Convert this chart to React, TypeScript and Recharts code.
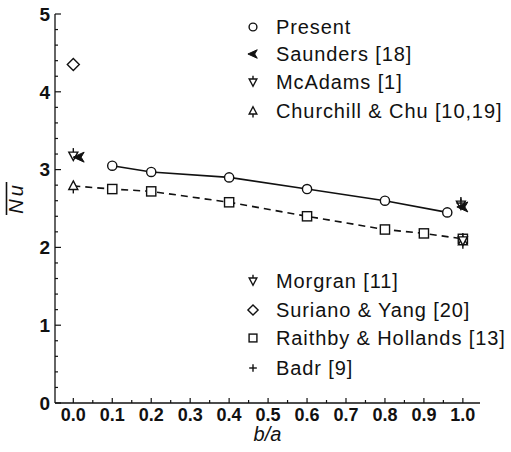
import { ScatterChart, Scatter, XAxis, YAxis } from "recharts";

// values (x = b/a, y = mean Nu)
const PRESENT_X = [0.1, 0.2, 0.4, 0.6, 0.8, 0.96];
const PRESENT_NU = [3.05, 2.97, 2.9, 2.75, 2.6, 2.45];

const RAITHBY_X = [0.1, 0.2, 0.4, 0.6, 0.8, 0.9, 1.0];
const RAITHBY_NU = [2.75, 2.72, 2.58, 2.4, 2.23, 2.18, 2.11];

const CHURCHILL_X = [0, 1.0];
const CHURCHILL_NU = [2.79, 2.08];

const SAUNDERS_X = [0.015, 1.0];
const SAUNDERS_NU = [3.16, 2.52];

const MCADAMS_X = [0, 0.995];
const MCADAMS_NU = [3.18, 2.55];

const SURIANO_X = [0];
const SURIANO_NU = [4.35];

const MORGRAN_X = [1.0];
const MORGRAN_NU = [2.09];

const BADR_X = [0.995];
const BADR_NU = [2.57];

const X_TICKS = [
  0, 0.05, 0.1, 0.15, 0.2, 0.25, 0.3, 0.35, 0.4, 0.45, 0.5,
  0.55, 0.6, 0.65, 0.7, 0.75, 0.8, 0.85, 0.9, 0.95, 1.0,
];
const Y_TICKS = [
  0, 0.2, 0.4, 0.6, 0.8, 1, 1.2, 1.4, 1.6, 1.8, 2, 2.2, 2.4, 2.6, 2.8,
  3, 3.2, 3.4, 3.6, 3.8, 4, 4.2, 4.4, 4.6, 4.8, 5,
];

const LEGEND_TOP = [
  { kind: "circle", label: "Present" },
  { kind: "arrow", label: "Saunders [18]" },
  { kind: "down", label: "McAdams [1]" },
  { kind: "up", label: "Churchill & Chu [10,19]" },
];
const LEGEND_BOTTOM = [
  { kind: "down", label: "Morgran [11]" },
  { kind: "diamond", label: "Suriano & Yang [20]" },
  { kind: "square", label: "Raithby & Hollands [13]" },
  { kind: "plus", label: "Badr [9]" },
];

const FONT = "'Liberation Sans', Arial, Helvetica, sans-serif";
const INK = "#111";
const W = 511;
const H = 452;
const TICK_GAP = 5;

const pts = (xs: number[], ys: number[]) => xs.map((x, i) => ({ x, y: ys[i] }));

function Mark({ kind, cx, cy, s = 1 }: { kind: string; cx: number; cy: number; s?: number }) {
  const st = { stroke: INK, strokeWidth: 1.4, fill: "#fff" };
  switch (kind) {
    case "circle":
      return <circle cx={cx} cy={cy} r={4.6 * s} {...st} />;
    case "square":
      return <rect x={cx - 4.6 * s} y={cy - 4.6 * s} width={9.2 * s} height={9.2 * s} {...st} />;
    case "diamond":
      return (
        <path
          d={`M${cx} ${cy - 6 * s}L${cx + 6 * s} ${cy}L${cx} ${cy + 6 * s}L${cx - 6 * s} ${cy}Z`}
          {...st}
        />
      );
    case "up":
      return (
        <g>
          <path d={`M${cx} ${cy - 5 * s}L${cx + 4.5 * s} ${cy + 3.5 * s}L${cx - 4.5 * s} ${cy + 3.5 * s}Z`} {...st} />
          <line x1={cx} x2={cx} y1={cy + 3.5 * s} y2={cy + 7.5 * s} stroke={INK} strokeWidth={1.4} />
        </g>
      );
    case "down":
      return (
        <g>
          <path d={`M${cx - 4.5 * s} ${cy - 3.5 * s}L${cx + 4.5 * s} ${cy - 3.5 * s}L${cx} ${cy + 5 * s}Z`} {...st} />
          <line x1={cx} x2={cx} y1={cy - 3.5 * s} y2={cy - 7.5 * s} stroke={INK} strokeWidth={1.4} />
        </g>
      );
    case "arrow":
      return (
        <path
          d={`M${cx - 6 * s} ${cy}L${cx + 5 * s} ${cy - 5 * s}L${cx + 2 * s} ${cy}L${cx + 5 * s} ${cy + 5 * s}Z`}
          fill={INK}
          stroke={INK}
          strokeWidth={1}
        />
      );
    case "plus":
      return (
        <g stroke={INK} strokeWidth={1.4}>
          <line x1={cx - 4.5 * s} x2={cx + 4.5 * s} y1={cy} y2={cy} />
          <line x1={cx} x2={cx} y1={cy - 4.5 * s} y2={cy + 4.5 * s} />
        </g>
      );
    default:
      return <g />;
  }
}

const shapeOf = (kind: string) => (p: any) => <Mark kind={kind} cx={p.cx} cy={p.cy} />;

function YTick(props: any) {
  const { x, y, payload } = props;
  const v = payload.value as number;
  const major = Number.isInteger(v);
  const ax = x + TICK_GAP;
  return (
    <g>
      <line x1={ax} x2={ax + (major ? 6 : 3)} y1={y} y2={y} stroke={INK} strokeWidth={1.2} />
      {major && (
        <text x={x} y={y} dy="0.36em" textAnchor="end" fontFamily={FONT} fontSize={19} fontWeight="bold" fill={INK}>
          {v}
        </text>
      )}
    </g>
  );
}

function XTick(props: any) {
  const { x, y, payload } = props;
  const v = payload.value as number;
  const major = Math.abs(v * 10 - Math.round(v * 10)) < 1e-6;
  const ay = y - TICK_GAP;
  return (
    <g>
      <line x1={x} x2={x} y1={ay} y2={ay - (major ? 5 : 3)} stroke={INK} strokeWidth={1.2} />
      {major && (
        <text x={x} y={y} dy="0.71em" textAnchor="middle" fontFamily={FONT} fontSize={18} fontWeight="bold" fill={INK}>
          {v.toFixed(1)}
        </text>
      )}
    </g>
  );
}

function NuLabel() {
  return (
    <g>
      <text
        transform="translate(23 198) rotate(-90)"
        textAnchor="middle"
        fontFamily={FONT}
        fontSize={20}
        fontStyle="italic"
        letterSpacing={3}
        fill={INK}
      >
        Nu
      </text>
      <line x1={6.5} x2={6.5} y1={182} y2={215} stroke={INK} strokeWidth={1.6} />
    </g>
  );
}

function LegendRows({ rows, top, step }: { rows: typeof LEGEND_TOP; top: number[]; step?: number }) {
  return (
    <>
      {rows.map((r, i) => (
        <g key={r.label}>
          <Mark kind={r.kind} cx={253} cy={top[i]} s={0.85} />
          <text
            x={276}
            y={top[i]}
            dy="0.35em"
            fontFamily={FONT}
            fontSize={20}
            letterSpacing={0.9}
            fill={INK}
          >
            {r.label}
          </text>
        </g>
      ))}
    </>
  );
}

export default function App() {
  return (
    <div style={{ position: "absolute", left: 0, top: 0, width: W, height: H, background: "#fff" }}>
      <ScatterChart width={W} height={H} margin={{ top: 14, right: 31, bottom: 0, left: 0 }}>
        <XAxis
          type="number"
          dataKey="x"
          domain={[-0.047, 1.044]}
          allowDataOverflow
          ticks={X_TICKS}
          interval={0}
          height={49}
          tickSize={0}
          tickMargin={TICK_GAP}
          tickLine={false}
          axisLine={{ stroke: INK, strokeWidth: 1.3 }}
          tick={XTick}
          label={{
            value: "b/a",
            position: "insideBottom",
            offset: 11,
            fontFamily: FONT,
            fontSize: 20,
            fontStyle: "italic",
            fill: INK,
          }}
        />
        <YAxis
          type="number"
          dataKey="y"
          domain={[0, 5]}
          allowDataOverflow
          ticks={Y_TICKS}
          interval={0}
          width={55}
          tickSize={0}
          tickMargin={TICK_GAP}
          tickLine={false}
          axisLine={{ stroke: INK, strokeWidth: 1.3 }}
          tick={YTick}
          label={{ content: () => <NuLabel /> }}
        />
        <Scatter
          name="Raithby curve"
          data={pts([CHURCHILL_X[0], ...RAITHBY_X], [CHURCHILL_NU[0], ...RAITHBY_NU])}
          line={{ stroke: INK, strokeWidth: 1.6, strokeDasharray: "7 5" }}
          shape={() => <g />}
          isAnimationActive={false}
        />
        <Scatter
          name="Present"
          data={pts(PRESENT_X, PRESENT_NU)}
          line={{ stroke: INK, strokeWidth: 1.6 }}
          shape={shapeOf("circle")}
          isAnimationActive={false}
        />
        <Scatter name="Raithby & Hollands" data={pts(RAITHBY_X, RAITHBY_NU)} shape={shapeOf("square")} isAnimationActive={false} />
        <Scatter name="Suriano & Yang" data={pts(SURIANO_X, SURIANO_NU)} shape={shapeOf("diamond")} isAnimationActive={false} />
        <Scatter name="Churchill & Chu" data={pts(CHURCHILL_X, CHURCHILL_NU)} shape={shapeOf("up")} isAnimationActive={false} />
        <Scatter name="Morgran" data={pts(MORGRAN_X, MORGRAN_NU)} shape={shapeOf("down")} isAnimationActive={false} />
        <Scatter name="McAdams" data={pts(MCADAMS_X, MCADAMS_NU)} shape={shapeOf("down")} isAnimationActive={false} />
        <Scatter name="Badr" data={pts(BADR_X, BADR_NU)} shape={shapeOf("plus")} isAnimationActive={false} />
        <Scatter name="Saunders" data={pts(SAUNDERS_X, SAUNDERS_NU)} shape={shapeOf("arrow")} isAnimationActive={false} />
      </ScatterChart>
      <svg width={W} height={H} style={{ position: "absolute", left: 0, top: 0, pointerEvents: "none" }}>
        <LegendRows rows={LEGEND_TOP} top={[27, 54, 82, 111]} />
        <LegendRows rows={LEGEND_BOTTOM} top={[281, 310, 338, 368]} />
      </svg>
    </div>
  );
}
